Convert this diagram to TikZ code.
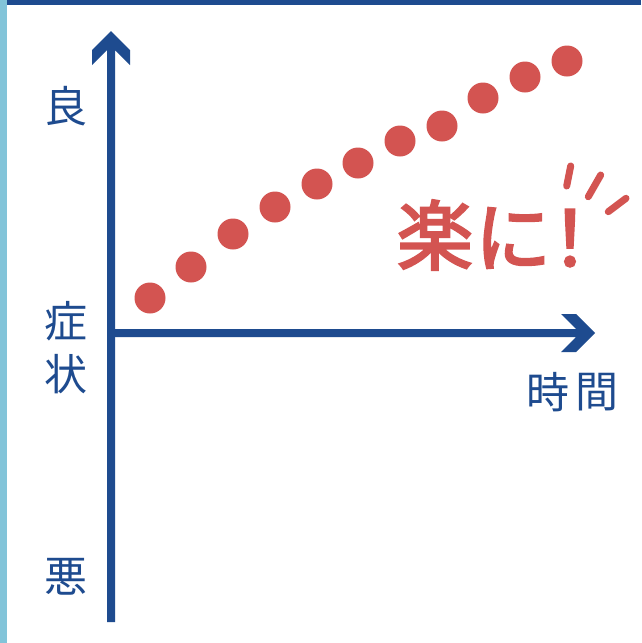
\documentclass[tikz,border=0pt]{standalone}
\usepackage{fontspec}
\newfontfamily\jp{Noto Sans CJK JP}
\newfontfamily\jpm[FakeBold=3]{Noto Sans CJK JP}
\definecolor{axisblue}{HTML}{1E4B8F}
\definecolor{dotred}{HTML}{D35451}
\definecolor{sidebar}{HTML}{82C4D9}
\tikzset{
  lbl/.style={text=axisblue,inner sep=0pt,font=\jp\fontsize{43}{43}\selectfont},
  big/.style={text=dotred,inner sep=0pt,font=\jpm\fontsize{76}{76}\selectfont},
  dot/.style={fill=dotred},
  tick/.style={draw=dotred,line width=7pt,line cap=round}
}
\begin{document}
\begin{tikzpicture}[x=1pt,y=-1pt]
\useasboundingbox (0,0) rectangle (641,643);
\fill[white] (0,0) rectangle (641,643);
\fill[sidebar] (0,0) rectangle (7,643);
\fill[axisblue] (7,0) rectangle (641,4.5);
% vertical axis
\fill[axisblue] (107,622) -- (107,50) -- (92,65) -- (92,50) -- (111,31) -- (130,50) -- (130,65) -- (115,50) -- (115,622) -- cycle;
% horizontal axis
\fill[axisblue] (107,329) -- (576,329) -- (561,314) -- (576,314) -- (595,333) -- (576,352) -- (561,352) -- (576,337) -- (107,337) -- cycle;
% dots
\foreach \x/\y in {150/298,191/267,233/234,275/207,317/184,358/163,400/141,442/126,483/98,525/77,567/61}
  \fill[dot] (\x,\y) circle[radius=15.5];
% labels
\node[lbl] (good) at (66,106) {良};
\node[lbl] (sym1) at (66,321) {症};
\node[lbl] (sym2) at (66,374) {状};
\node[lbl] (bad) at (66,577) {悪};
\node[lbl] (t1) at (548,392) {時};
\node[lbl] (t2) at (597,392) {間};
% 楽に！
\node[big] (raku) at (435,235) {楽};
\node[big] (ni) at (513,238) {に};
\node[big] (excl) at (570,238) {！};
\draw[tick] (570.7,166) -- (566.7,186);
\draw[tick] (600.7,175) -- (588.3,196.7);
\draw[tick] (626,198.3) -- (608.3,211.7);
\end{tikzpicture}
\end{document}
